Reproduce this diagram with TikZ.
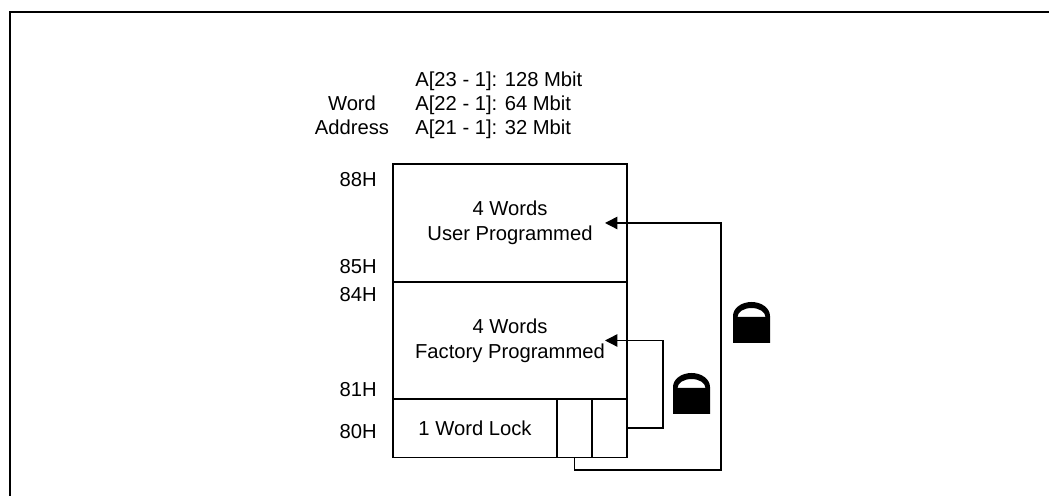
\documentclass[tikz,border=0pt]{standalone}
\usepackage{fontspec}
\setmainfont{Liberation Sans}
\usetikzlibrary{positioning}
\usetikzlibrary{arrows.meta}

\tikzset{
  cell/.style={draw, line width=1pt, inner sep=0pt, outer sep=0pt, align=center},
  addr/.style={anchor=east, inner sep=0pt},
  hdr/.style={anchor=base west, inner sep=0pt},
  link/.style={line width=0.8pt},
  padlock/.pic={
    \fill[even odd rule] (0,0) -- (37,0) -- (37,27)
      arc[start angle=0, end angle=180, x radius=18.5, y radius=14] -- cycle
      (4.5,26) arc[start angle=180, end angle=0, x radius=14, y radius=9] -- cycle;
  }
}

\begin{document}
\begin{tikzpicture}[x=0.02cm, y=0.02cm, font=\fontsize{11.5}{14.2}\selectfont]
\clip (0,0) rectangle (1049,496);
\draw[line width=1.1pt] (10,-5) -- (10,484) -- (1060,484);

% address width
\node[hdr] (a128) at (415,409.3) {A[23 - 1]: 128 Mbit};
\node[hdr] (a64) at (415,385.3) {A[22 - 1]: 64 Mbit};
\node[hdr] (a32) at (415,361.3) {A[21 - 1]: 32 Mbit};
\node[anchor=base, inner sep=0pt] (word) at (352,385.3) {Word};
\node[anchor=base, inner sep=0pt] (address) at (352,361.3) {Address};

% the protection register
\node[cell, minimum width=4.68cm, minimum height=2.36cm] (user) at (510,273)
  {4 Words\\User Programmed};
\node[cell, minimum width=4.68cm, minimum height=2.34cm, below=0pt of user] (factory)
  {4 Words\\Factory Programmed};
\node[cell, minimum width=3.28cm, minimum height=1.17cm,
      below right=0pt and 0pt of factory.south west] (lockword) {1 Word Lock};
\node[cell, minimum width=0.7cm, minimum height=1.17cm, right=0pt of lockword] (bitA) {};
\node[cell, minimum width=0.7cm, minimum height=1.17cm, right=0pt of bitA] (bitB) {};

\node[addr] (h88) at (377,316) {88H};
\node[addr] (h85) at (377,229) {85H};
\node[addr] (h84) at (377,201) {84H};
\node[addr] (h81) at (377,106.7) {81H};
\node[addr] (h80) at (377,64.3) {80H};

\coordinate (uin) at (605,273);
\coordinate (fin) at (605,155.5);
\path[link, -{Triangle[length=7pt,width=7pt]}]
  (bitA.south) edge[to path={-- ++(0,-12.5) -- ++(146.5,0) |- (\tikztotarget)}] (uin)
  (bitB.east) edge[to path={-- ++(36,0) |- (\tikztotarget)}] (fin)
  ;

\pic (lockU) at (733,153) {padlock};
\pic (lockF) at (673,82) {padlock};
\end{tikzpicture}
\end{document}
